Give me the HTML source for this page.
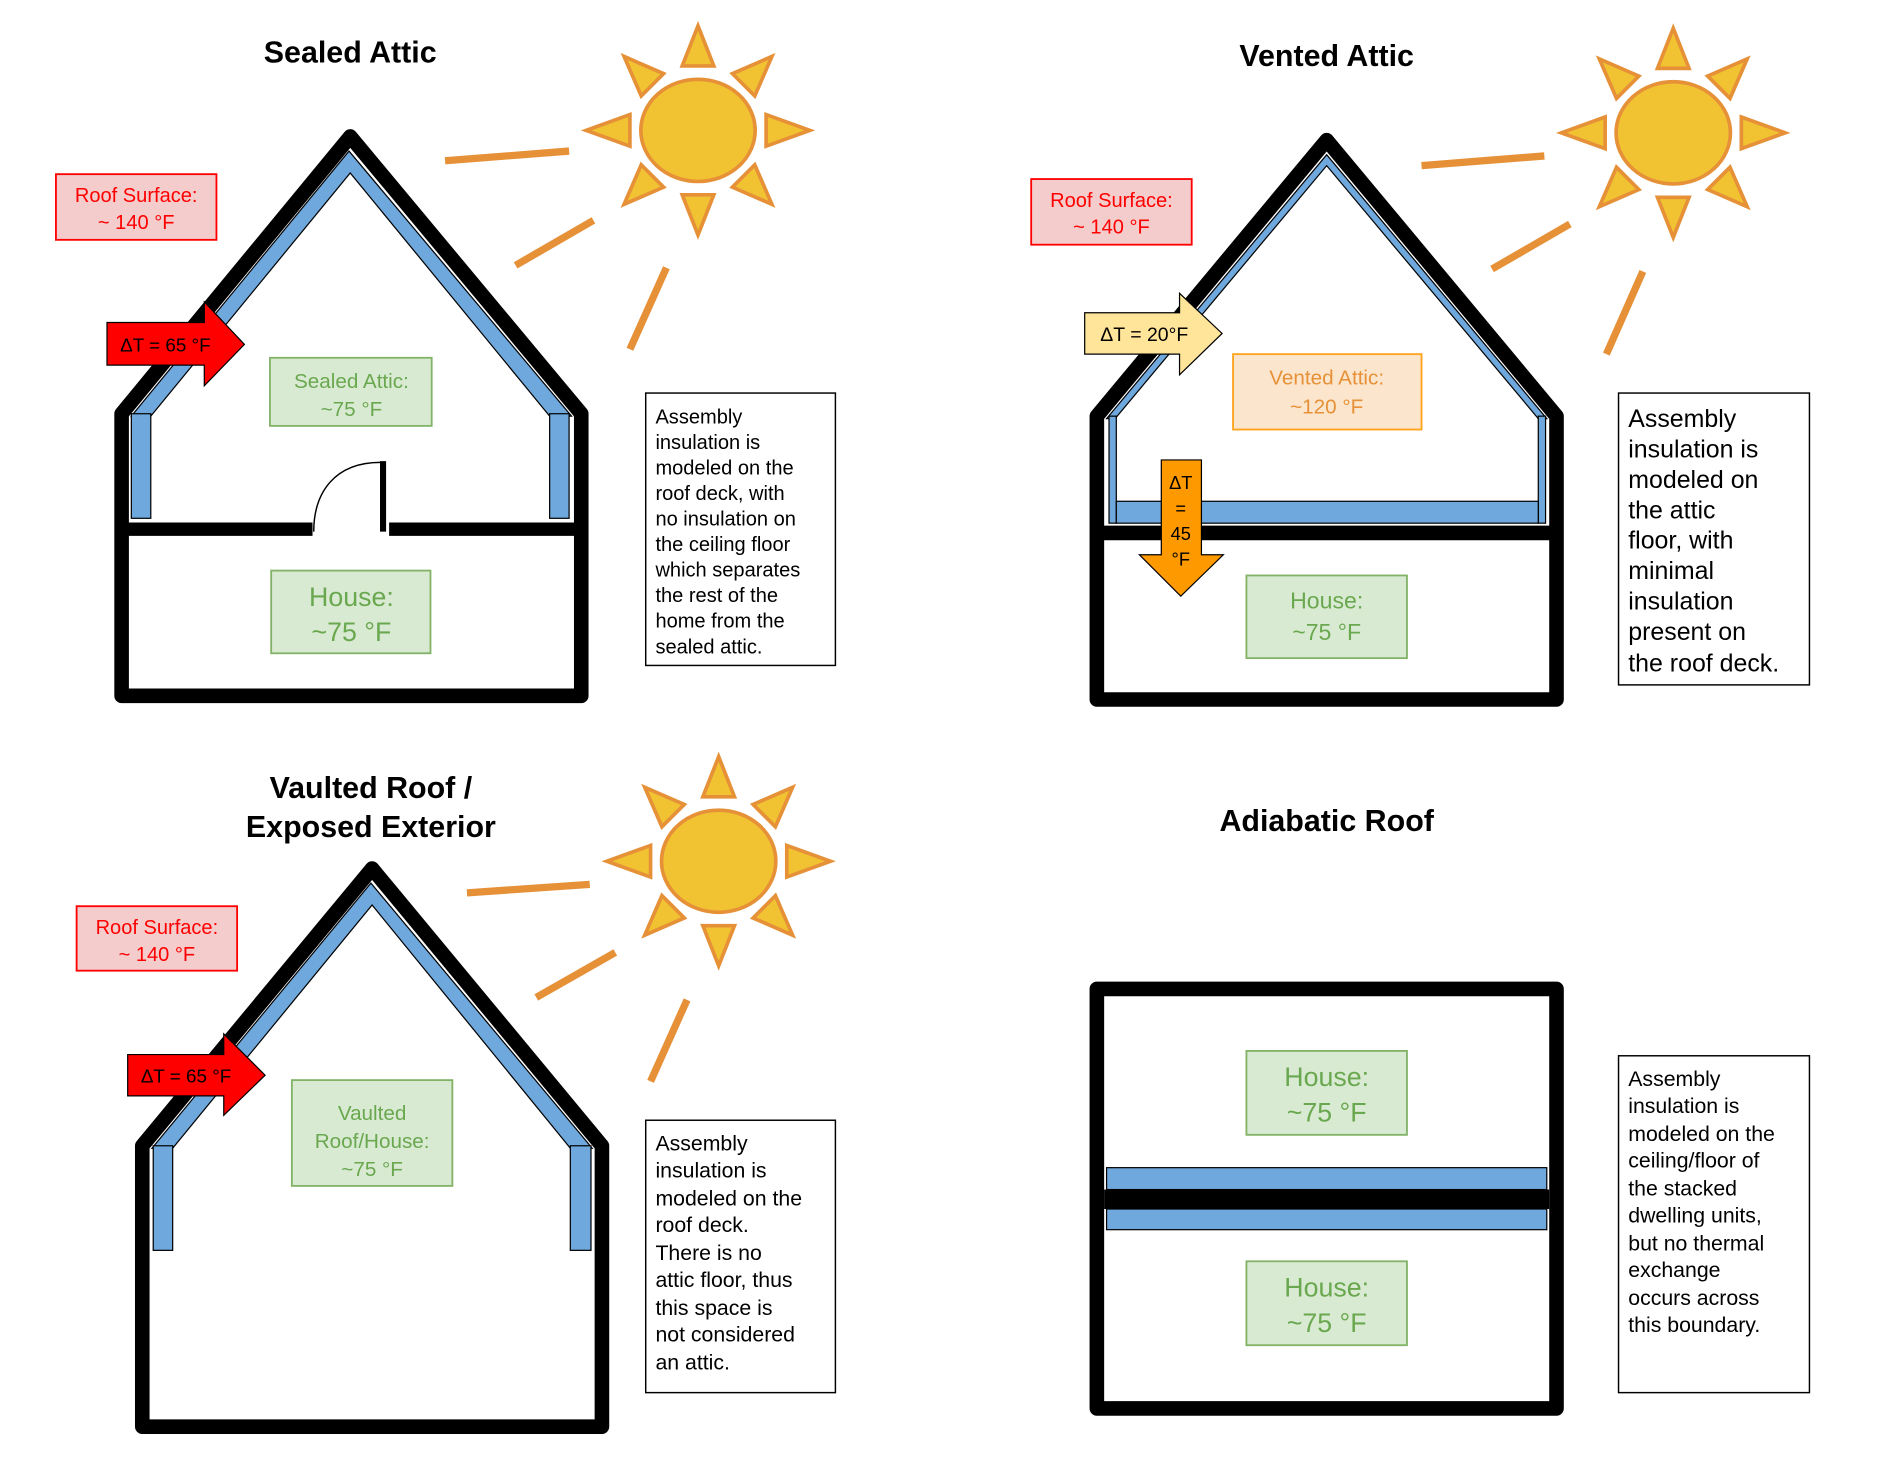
<!DOCTYPE html>
<html><head><meta charset="utf-8"><style>html,body{margin:0;padding:0;background:#fff}svg{display:block}</style></head><body>
<svg width="1897" height="1461" viewBox="0 0 1560 1201" xmlns="http://www.w3.org/2000/svg" font-family="Liberation Sans, sans-serif">
<defs>
<g id="sun">
  <g fill="#f1c232" stroke="#e69138" stroke-width="3" stroke-linejoin="miter">
    <polygon points="-13,-53 13,-53 0,-86"/>
    <polygon points="-13,-53 13,-53 0,-86" transform="rotate(45)"/>
    <polygon points="-13,-56 13,-56 0,-92" transform="rotate(90)"/>
    <polygon points="-13,-53 13,-53 0,-86" transform="rotate(135)"/>
    <polygon points="-13,-53 13,-53 0,-86" transform="rotate(180)"/>
    <polygon points="-13,-53 13,-53 0,-86" transform="rotate(225)"/>
    <polygon points="-13,-56 13,-56 0,-92" transform="rotate(270)"/>
    <polygon points="-13,-53 13,-53 0,-86" transform="rotate(315)"/>
  </g>
  <ellipse cx="0" cy="0" rx="47" ry="42" fill="#f1c232" stroke="#e69138" stroke-width="3"/>
</g>
</defs>

<!-- ===== Panel 1: Sealed Attic ===== -->
<text x="288" y="51" font-size="25" font-weight="bold" text-anchor="middle">Sealed Attic</text>
<use href="#sun" x="574" y="107"/>
<g stroke="#e69138" stroke-width="6"><line x1="366" y1="132" x2="468" y2="124"/><line x1="424" y1="218" x2="488" y2="181"/><line x1="518" y1="287" x2="548" y2="220"/></g>
<polygon points="108,342 287,124 470,342 452,342 288,142 124,342" fill="#6fa8dc" stroke="#000" stroke-width="1"/>
<rect x="108" y="340" width="16" height="86" fill="#6fa8dc" stroke="#000" stroke-width="1"/>
<rect x="452" y="340" width="16" height="86" fill="#6fa8dc" stroke="#000" stroke-width="1"/>
<polygon points="100,340 288,112 478,340 478,572 100,572" fill="none" stroke="#000" stroke-width="12" stroke-linejoin="round"/>
<line x1="100" y1="435" x2="257" y2="435" stroke="#000" stroke-width="11"/>
<line x1="320" y1="435" x2="478" y2="435" stroke="#000" stroke-width="11"/>
<line x1="315" y1="379" x2="315" y2="437" stroke="#000" stroke-width="5"/>
<path d="M258,437 C258,405 275,380 313,380" fill="none" stroke="#000" stroke-width="1.2"/>
<rect x="46" y="143" width="132" height="54" fill="#f4cccc" stroke="#f00" stroke-width="1.5"/>
<text x="112" y="166" font-size="16.5" fill="#f00" text-anchor="middle">Roof Surface:</text>
<text x="112" y="188" font-size="16.5" fill="#f00" text-anchor="middle">~ 140 °F</text>
<polygon points="88,265 168,265 168,248 201,283 168,317 168,300 88,300" fill="#f00" stroke="#000" stroke-width="1"/>
<text x="136" y="289" font-size="15.5" text-anchor="middle">ΔT = 65 °F</text>
<rect x="222" y="294" width="133" height="56" fill="#d9ead3" stroke="#82b366" stroke-width="1.5"/>
<text x="289" y="319" font-size="17" fill="#6aa84f" text-anchor="middle">Sealed Attic:</text>
<text x="289" y="342" font-size="17" fill="#6aa84f" text-anchor="middle">~75 °F</text>
<rect x="223" y="469" width="131" height="68" fill="#d9ead3" stroke="#82b366" stroke-width="1.5"/>
<text x="289" y="498" font-size="22" fill="#6aa84f" text-anchor="middle">House:</text>
<text x="289" y="527" font-size="22" fill="#6aa84f" text-anchor="middle">~75 °F</text>
<rect x="531" y="323" width="156" height="224" fill="#fff" stroke="#000" stroke-width="1.2"/>
<g font-size="16.5"><text x="539" y="348">Assembly</text><text x="539" y="369">insulation is</text><text x="539" y="390">modeled on the</text><text x="539" y="411">roof deck, with</text><text x="539" y="432">no insulation on</text><text x="539" y="453">the ceiling floor</text><text x="539" y="474">which separates</text><text x="539" y="495">the rest of the</text><text x="539" y="516">home from the</text><text x="539" y="537">sealed attic.</text></g>

<!-- ===== Panel 2: Vented Attic ===== -->
<text x="1091" y="54" font-size="25" font-weight="bold" text-anchor="middle">Vented Attic</text>
<use href="#sun" x="1376" y="109"/>
<g stroke="#e69138" stroke-width="6"><line x1="1169" y1="136" x2="1270" y2="128"/><line x1="1227" y1="221" x2="1291" y2="184"/><line x1="1321" y1="291" x2="1351" y2="223"/></g>
<polygon points="910,344 1091,127 1272,344 1265,344 1091,136 917,344" fill="#6fa8dc" stroke="#000" stroke-width="1"/>
<rect x="912" y="342" width="6" height="88" fill="#6fa8dc" stroke="#000" stroke-width="1"/>
<rect x="1265" y="342" width="6" height="88" fill="#6fa8dc" stroke="#000" stroke-width="1"/>
<rect x="918" y="412" width="347" height="18" fill="#6fa8dc" stroke="#000" stroke-width="1"/>
<polygon points="902,342 1091,115 1280,342 1280,575 902,575" fill="none" stroke="#000" stroke-width="12" stroke-linejoin="round"/>
<line x1="902" y1="438" x2="1280" y2="438" stroke="#000" stroke-width="12"/>
<rect x="848" y="147" width="132" height="54" fill="#f4cccc" stroke="#f00" stroke-width="1.5"/>
<text x="914" y="170" font-size="16.5" fill="#f00" text-anchor="middle">Roof Surface:</text>
<text x="914" y="192" font-size="16.5" fill="#f00" text-anchor="middle">~ 140 °F</text>
<polygon points="892,257 970,257 970,241 1005,274 970,308 970,291 892,291" fill="#ffe599" stroke="#000" stroke-width="1"/>
<text x="941" y="280" font-size="16" text-anchor="middle">ΔT = 20°F</text>
<rect x="1014" y="291" width="155" height="62" fill="#fce5cd" stroke="#ffa31a" stroke-width="1.5"/>
<text x="1091" y="316" font-size="17" fill="#e69138" text-anchor="middle">Vented Attic:</text>
<text x="1091" y="340" font-size="17" fill="#e69138" text-anchor="middle">~120 °F</text>
<polygon points="955,378 988,378 988,456 1006,456 971,490 937,456 955,456" fill="#ff9900" stroke="#000" stroke-width="1"/>
<g font-size="15" text-anchor="middle"><text x="971" y="402">ΔT</text><text x="971" y="423">=</text><text x="971" y="444">45</text><text x="971" y="465">°F</text></g>
<rect x="1025" y="473" width="132" height="68" fill="#d9ead3" stroke="#82b366" stroke-width="1.5"/>
<text x="1091" y="500" font-size="19" fill="#6aa84f" text-anchor="middle">House:</text>
<text x="1091" y="526" font-size="19" fill="#6aa84f" text-anchor="middle">~75 °F</text>
<rect x="1331" y="323" width="157" height="240" fill="#fff" stroke="#000" stroke-width="1.2"/>
<g font-size="20.5"><text x="1339" y="351">Assembly</text><text x="1339" y="376">insulation is</text><text x="1339" y="401">modeled on</text><text x="1339" y="426">the attic</text><text x="1339" y="451">floor, with</text><text x="1339" y="476">minimal</text><text x="1339" y="501">insulation</text><text x="1339" y="526">present on</text><text x="1339" y="552">the roof deck.</text></g>

<!-- ===== Panel 3: Vaulted ===== -->
<text x="305" y="656" font-size="25" font-weight="bold" text-anchor="middle">Vaulted Roof /</text>
<text x="305" y="688" font-size="25" font-weight="bold" text-anchor="middle">Exposed Exterior</text>
<use href="#sun" x="591" y="708"/>
<g stroke="#e69138" stroke-width="6"><line x1="384" y1="734" x2="485" y2="727"/><line x1="441" y1="820" x2="506" y2="783"/><line x1="535" y1="889" x2="565" y2="822"/></g>
<polygon points="125,944 305,726 487,944 469,944 306,744 142,944" fill="#6fa8dc" stroke="#000" stroke-width="1"/>
<rect x="126" y="942" width="16" height="86" fill="#6fa8dc" stroke="#000" stroke-width="1"/>
<rect x="469" y="942" width="17" height="86" fill="#6fa8dc" stroke="#000" stroke-width="1"/>
<polygon points="117,942 306,714 495,942 495,1173 117,1173" fill="none" stroke="#000" stroke-width="12" stroke-linejoin="round"/>
<rect x="63" y="745" width="132" height="53" fill="#f4cccc" stroke="#f00" stroke-width="1.5"/>
<text x="129" y="768" font-size="16.5" fill="#f00" text-anchor="middle">Roof Surface:</text>
<text x="129" y="790" font-size="16.5" fill="#f00" text-anchor="middle">~ 140 °F</text>
<polygon points="105,867 184,867 184,850 218,884 184,917 184,901 105,901" fill="#f00" stroke="#000" stroke-width="1"/>
<text x="153" y="890" font-size="15.5" text-anchor="middle">ΔT = 65 °F</text>
<rect x="240" y="888" width="132" height="87" fill="#d9ead3" stroke="#82b366" stroke-width="1.5"/>
<text x="306" y="921" font-size="17" fill="#6aa84f" text-anchor="middle">Vaulted</text>
<text x="306" y="944" font-size="17" fill="#6aa84f" text-anchor="middle">Roof/House:</text>
<text x="306" y="967" font-size="17" fill="#6aa84f" text-anchor="middle">~75 °F</text>
<rect x="531" y="921" width="156" height="224" fill="#fff" stroke="#000" stroke-width="1.2"/>
<g font-size="17.5"><text x="539" y="946">Assembly</text><text x="539" y="968">insulation is</text><text x="539" y="991">modeled on the</text><text x="539" y="1013">roof deck.</text><text x="539" y="1036">There is no</text><text x="539" y="1058">attic floor, thus</text><text x="539" y="1081">this space is</text><text x="539" y="1103">not considered</text><text x="539" y="1126">an attic.</text></g>

<!-- ===== Panel 4: Adiabatic ===== -->
<text x="1091" y="683" font-size="25" font-weight="bold" text-anchor="middle">Adiabatic Roof</text>
<rect x="902" y="813" width="378" height="345" fill="none" stroke="#000" stroke-width="12" stroke-linejoin="round"/>
<rect x="910" y="960" width="362" height="18" fill="#6fa8dc" stroke="#000" stroke-width="1"/>
<rect x="908" y="978" width="366" height="16" fill="#000"/>
<rect x="910" y="994" width="362" height="17" fill="#6fa8dc" stroke="#000" stroke-width="1"/>
<rect x="1025" y="864" width="132" height="69" fill="#d9ead3" stroke="#82b366" stroke-width="1.5"/>
<text x="1091" y="893" font-size="22" fill="#6aa84f" text-anchor="middle">House:</text>
<text x="1091" y="922" font-size="22" fill="#6aa84f" text-anchor="middle">~75 °F</text>
<rect x="1025" y="1037" width="132" height="69" fill="#d9ead3" stroke="#82b366" stroke-width="1.5"/>
<text x="1091" y="1066" font-size="22" fill="#6aa84f" text-anchor="middle">House:</text>
<text x="1091" y="1095" font-size="22" fill="#6aa84f" text-anchor="middle">~75 °F</text>
<rect x="1331" y="868" width="157" height="277" fill="#fff" stroke="#000" stroke-width="1.2"/>
<g font-size="17.5"><text x="1339" y="893">Assembly</text><text x="1339" y="915">insulation is</text><text x="1339" y="938">modeled on the</text><text x="1339" y="960">ceiling/floor of</text><text x="1339" y="983">the stacked</text><text x="1339" y="1005">dwelling units,</text><text x="1339" y="1028">but no thermal</text><text x="1339" y="1050">exchange</text><text x="1339" y="1073">occurs across</text><text x="1339" y="1095">this boundary.</text></g>
</svg>
</body></html>
